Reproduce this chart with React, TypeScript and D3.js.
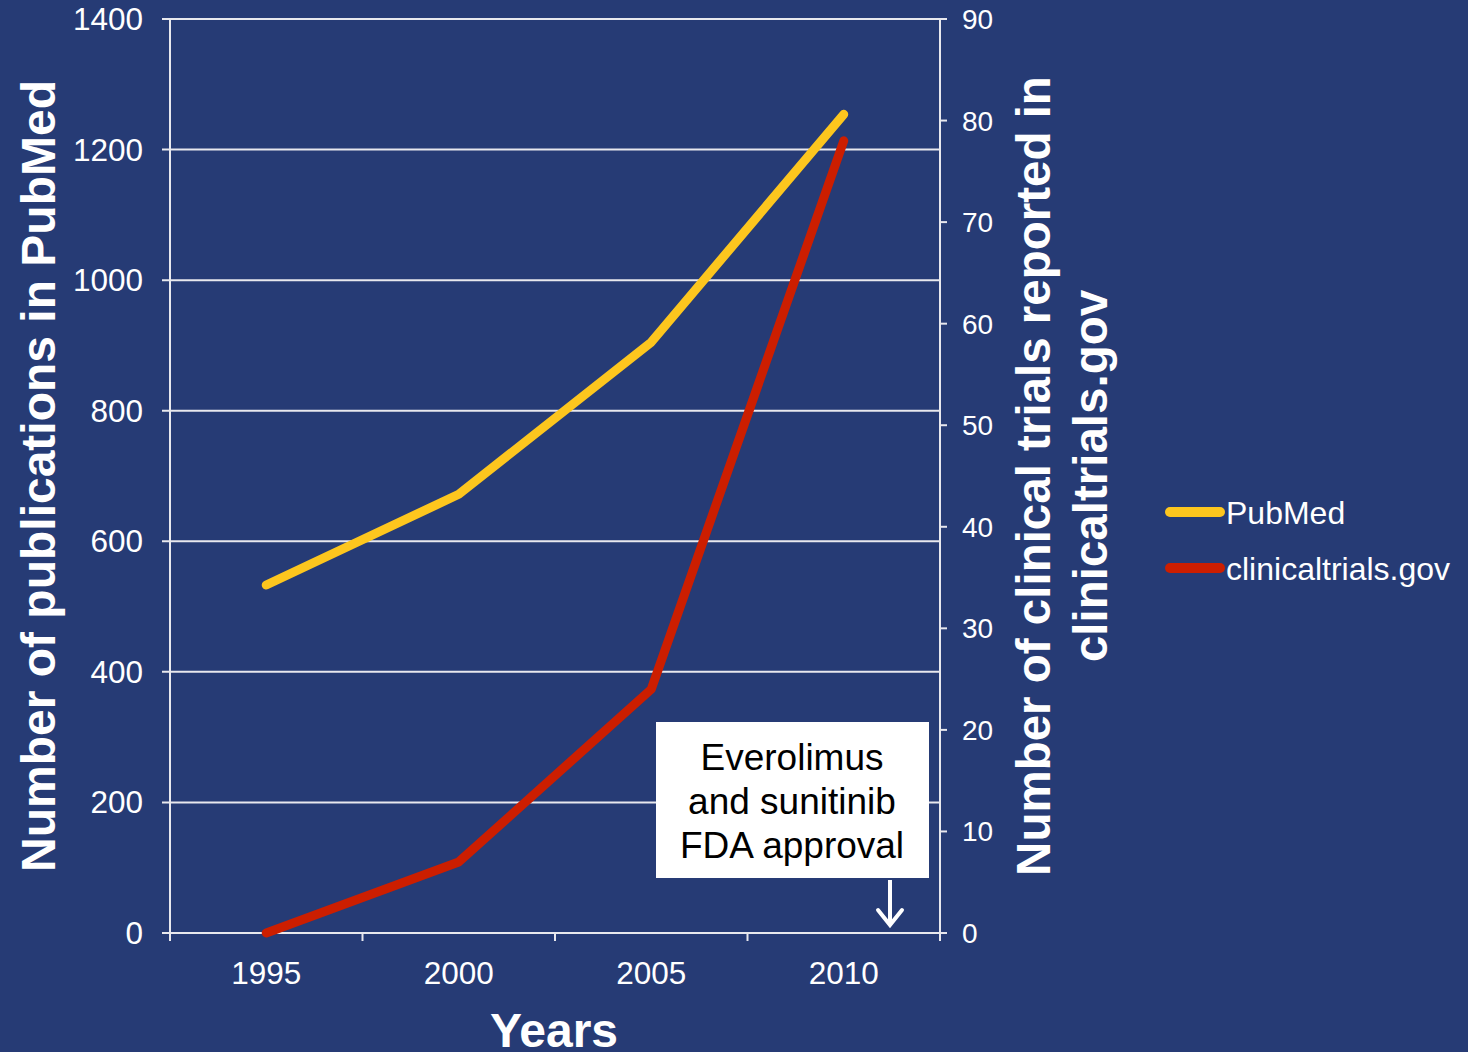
import { useEffect, useRef } from 'react';
import * as d3 from 'd3';

const years = ['1995', '2000', '2005', '2010'];
const pubmed = [533, 672, 905, 1254];
const trials = [0, 7, 24, 78];
const leftTicks = [0, 200, 400, 600, 800, 1000, 1200, 1400];
const rightTicks = [0, 10, 20, 30, 40, 50, 60, 70, 80, 90];
const annotationLines = ['Everolimus', 'and sunitinib', 'FDA approval'];

const W = 1468;
const H = 1052;
const BG = '#263b75';
const FONT = '"Liberation Sans", Arial, sans-serif';

export default function App() {
  const ref = useRef<SVGSVGElement>(null);

  useEffect(() => {
    document.body.style.margin = '0';
    const svg = d3.select(ref.current);
    svg.selectAll('*').remove();

    const m = { left: 170, right: 940, top: 19, bottom: 933 };

    svg.append('rect').attr('width', W).attr('height', H).attr('fill', BG);

    const x = d3.scaleBand().domain(years).range([m.left, m.right]);
    const yL = d3.scaleLinear().domain([0, 1400]).range([m.bottom, m.top]);
    const yR = d3.scaleLinear().domain([0, 90]).range([m.bottom, m.top]);

    const g = svg.append('g').attr('font-family', FONT);

    // gridlines + left ticks
    leftTicks.forEach(t => {
      g.append('line')
        .attr('x1', m.left - 8).attr('x2', m.right)
        .attr('y1', yL(t)).attr('y2', yL(t))
        .attr('stroke', '#e8e8ee').attr('stroke-width', 2);
      g.append('text')
        .attr('x', m.left - 27).attr('y', yL(t) + 11)
        .attr('text-anchor', 'end').attr('fill', 'white')
        .attr('font-size', 31.5).text(t);
    });

    // axes lines
    g.append('line').attr('x1', m.left).attr('x2', m.left)
      .attr('y1', m.top).attr('y2', m.bottom + 8)
      .attr('stroke', '#e8e8ee').attr('stroke-width', 2);
    g.append('line').attr('x1', m.right).attr('x2', m.right)
      .attr('y1', m.top).attr('y2', m.bottom + 8)
      .attr('stroke', '#e8e8ee').attr('stroke-width', 2);

    // bottom ticks at band edges
    const edges = years.map(y => x(y) as number).concat([m.right]);
    edges.forEach(e => {
      g.append('line').attr('x1', e).attr('x2', e)
        .attr('y1', m.bottom).attr('y2', m.bottom + 8)
        .attr('stroke', '#e8e8ee').attr('stroke-width', 2);
    });
    years.forEach(yr => {
      g.append('text')
        .attr('x', (x(yr) as number) + x.bandwidth() / 2)
        .attr('y', m.bottom + 51)
        .attr('text-anchor', 'middle').attr('fill', 'white')
        .attr('font-size', 31.5).text(yr);
    });

    // right ticks
    rightTicks.forEach(t => {
      g.append('line').attr('x1', m.right).attr('x2', m.right + 7)
        .attr('y1', yR(t)).attr('y2', yR(t))
        .attr('stroke', '#e8e8ee').attr('stroke-width', 2);
      g.append('text')
        .attr('x', m.right + 22).attr('y', yR(t) + 10)
        .attr('fill', 'white').attr('font-size', 28).text(t);
    });

    // axis titles
    const midY = 476;
    g.append('text')
      .attr('transform', `translate(55,${midY}) rotate(-90)`)
      .attr('text-anchor', 'middle').attr('fill', 'white')
      .attr('font-size', 48).attr('font-weight', 'bold')
      .text('Number of publications in PubMed');
    g.append('text')
      .attr('transform', `translate(1050,${midY}) rotate(-90)`)
      .attr('text-anchor', 'middle').attr('fill', 'white')
      .attr('font-size', 47.5).attr('font-weight', 'bold')
      .text('Number of clinical trials reported in');
    g.append('text')
      .attr('transform', `translate(1107,${midY}) rotate(-90)`)
      .attr('text-anchor', 'middle').attr('fill', 'white')
      .attr('font-size', 47.5).attr('font-weight', 'bold')
      .text('clinicaltrials.gov');
    g.append('text')
      .attr('x', 554).attr('y', 1047)
      .attr('text-anchor', 'middle').attr('fill', 'white')
      .attr('font-size', 48).attr('font-weight', 'bold')
      .text('Years');

    const cx = (yr: string) => (x(yr) as number) + x.bandwidth() / 2;

    const lineL = d3.line<number>().x((_, i) => cx(years[i])).y(d => yL(d));
    const lineR = d3.line<number>().x((_, i) => cx(years[i])).y(d => yR(d));

    g.append('path').datum(pubmed).attr('d', lineL)
      .attr('fill', 'none').attr('stroke', '#fdc61e')
      .attr('stroke-width', 9).attr('stroke-linecap', 'round').attr('stroke-linejoin', 'round');
    g.append('path').datum(trials).attr('d', lineR)
      .attr('fill', 'none').attr('stroke', '#cc1e00')
      .attr('stroke-width', 9).attr('stroke-linecap', 'round').attr('stroke-linejoin', 'round');

    // annotation
    g.append('rect').attr('x', 656).attr('y', 722).attr('width', 273).attr('height', 156)
      .attr('fill', 'white');
    annotationLines.forEach((t, i) => {
      g.append('text')
        .attr('x', 792).attr('y', 770 + i * 44)
        .attr('text-anchor', 'middle').attr('fill', 'black')
        .attr('font-size', 37).text(t);
    });
    g.append('line').attr('x1', 890).attr('x2', 890).attr('y1', 880).attr('y2', 924)
      .attr('stroke', 'white').attr('stroke-width', 4);
    g.append('path').attr('d', 'M878,910 L890,925 L902,910')
      .attr('fill', 'none').attr('stroke', 'white').attr('stroke-width', 4)
      .attr('stroke-linecap', 'round');

    // legend
    const legend = [
      { label: 'PubMed', color: '#fdc61e', y: 512 },
      { label: 'clinicaltrials.gov', color: '#cc1e00', y: 568 },
    ];
    legend.forEach(l => {
      g.append('line').attr('x1', 1170).attr('x2', 1220)
        .attr('y1', l.y).attr('y2', l.y)
        .attr('stroke', l.color).attr('stroke-width', 10).attr('stroke-linecap', 'round');
      g.append('text').attr('x', 1226).attr('y', l.y + 12)
        .attr('fill', 'white').attr('font-size', 32).text(l.label);
    });
  }, []);

  return <svg ref={ref} width={W} height={H} style={{ display: 'block' }} />;
}
